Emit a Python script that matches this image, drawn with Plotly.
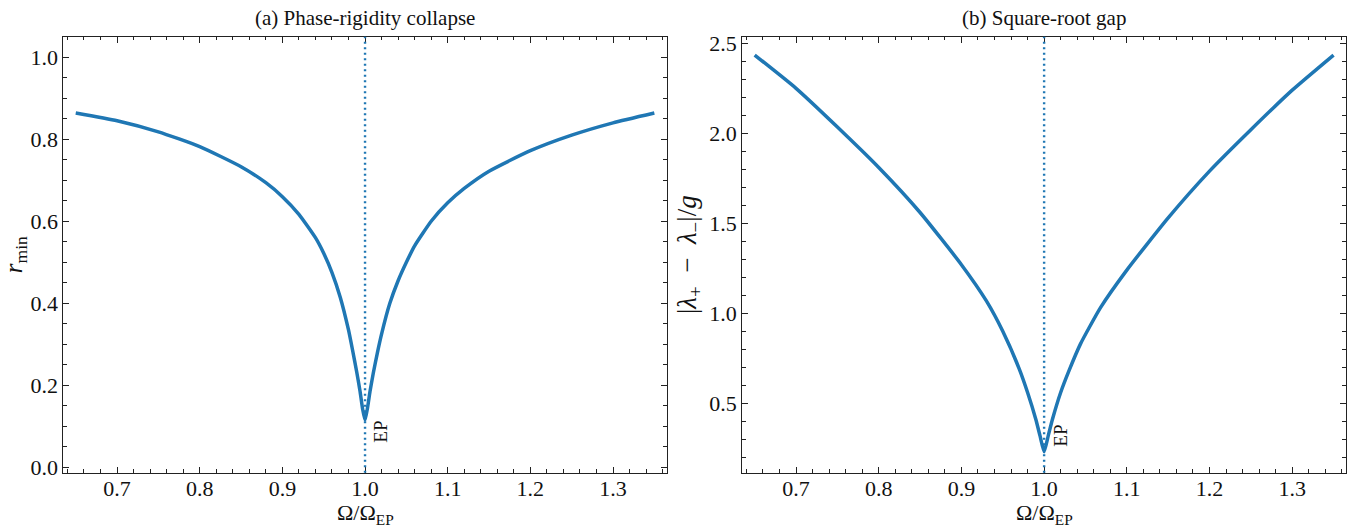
import plotly.graph_objects as go
from plotly.subplots import make_subplots

# Panel (a): minimum phase rigidity vs detuning
omega_a = [0.65, 0.70, 0.75, 0.80, 0.85, 0.88, 0.90, 0.92, 0.94, 0.95, 0.96, 0.97, 0.98,
           0.985, 0.99, 0.994, 0.997, 1.0,
           1.003, 1.006, 1.01, 1.015, 1.02, 1.03, 1.04, 1.05, 1.06, 1.08, 1.10, 1.12,
           1.15, 1.20, 1.25, 1.30, 1.35]
r_min = [0.864, 0.845, 0.818, 0.782, 0.733, 0.694, 0.660, 0.617, 0.560, 0.522, 0.475, 0.415, 0.335,
         0.285, 0.232, 0.185, 0.143, 0.115,
         0.145, 0.185, 0.230, 0.280, 0.325, 0.400, 0.455, 0.500, 0.540, 0.600, 0.645, 0.680,
         0.722, 0.772, 0.810, 0.840, 0.864]

# Panel (b): eigenvalue splitting vs detuning
omega_b = [0.65, 0.70, 0.75, 0.80, 0.85, 0.90, 0.93, 0.95, 0.97, 0.98, 0.99, 0.995, 1.0,
           1.005, 1.01, 1.02, 1.03, 1.044, 1.068, 1.10, 1.15, 1.20, 1.25, 1.30, 1.35]
gap = [2.435, 2.25, 2.035, 1.81, 1.56, 1.27, 1.07, 0.90, 0.69, 0.56, 0.41, 0.32, 0.23,
       0.32, 0.41, 0.56, 0.68, 0.83, 1.03, 1.24, 1.53, 1.79, 2.02, 2.24, 2.435]

x_ticks = [0.7, 0.8, 0.9, 1.0, 1.1, 1.2, 1.3]
omega_ep = 1.0

BLUE = "#1f77b4"
FONT = "Liberation Serif"
INK = "#111"

fig = make_subplots(rows=1, cols=2)

fig.add_trace(go.Scatter(x=omega_a, y=r_min, mode="lines",
                         line=dict(color=BLUE, width=3.5, shape="spline", smoothing=0.5),
                         showlegend=False), row=1, col=1)
fig.add_trace(go.Scatter(x=omega_b, y=gap, mode="lines",
                         line=dict(color=BLUE, width=3.5, shape="spline", smoothing=0.5),
                         showlegend=False), row=1, col=2)

axis_common = dict(
    showline=True, linecolor="#222", linewidth=1, mirror="allticks",
    ticks="inside", ticklen=6, tickwidth=1, tickcolor="#222",
    showgrid=False, zeroline=False, automargin=False,
    tickfont=dict(family=FONT, size=22, color=INK),
    tickformat=".1f",
)
minor_common = dict(ticks="inside", ticklen=3.5, tickwidth=1, tickcolor="#222", showgrid=False)

for xa in ["xaxis", "xaxis2"]:
    fig.layout[xa].update(
        **axis_common, range=[0.635, 1.365], tickvals=x_ticks,
        ticklabelstandoff=-4,
        minor=dict(**minor_common, dtick=0.02, tick0=0.6),
    )

fig.layout.xaxis.domain = [0.0467, 0.4917]
fig.layout.xaxis2.domain = [0.5474, 0.9926]

fig.layout.yaxis.update(
    **axis_common, range=[-0.013, 1.05], dtick=0.2, tick0=0,
    minor=dict(**minor_common, dtick=0.05, tick0=0),
    domain=[0.1030, 0.9304],
    title=dict(text="<i>r</i><sub>min</sub>", font=dict(family=FONT, size=25, color=INK), standoff=6),
)
fig.layout.yaxis2.update(
    **axis_common, range=[0.114, 2.537], dtick=0.5, tick0=0,
    minor=dict(**minor_common, dtick=0.1, tick0=0),
    domain=[0.1030, 0.9304],
    title=dict(text="|<i>λ</i><sub>+</sub>  −  <i>λ</i><sub>−</sub>|/<i>g</i>",
               font=dict(family=FONT, size=27, color=INK), standoff=4),
)

# Horizontal axis label under each panel
for xr in ["x", "x2"]:
    fig.add_annotation(x=0.5, y=0.025, xref=f"{xr} domain", yref="paper", yanchor="middle",
                       text="Ω/Ω<sub>EP</sub>", showarrow=False,
                       font=dict(family=FONT, size=22, color=INK))

# Exceptional point markers
for xr, yr in [("x", "y"), ("x2", "y2")]:
    fig.add_shape(type="line", xref=xr, yref=f"{yr} domain",
                  x0=omega_ep, x1=omega_ep, y0=0, y1=1,
                  line=dict(color=BLUE, width=2.4, dash="2px,3.5px"))

fig.add_annotation(x=omega_ep, y=0.086, xref="x", yref="y", text="EP", textangle=-90,
                   showarrow=False, xanchor="left", xshift=3,
                   font=dict(family=FONT, size=19, color=INK))
fig.add_annotation(x=omega_ep, y=0.318, xref="x2", yref="y2", text="EP", textangle=-90,
                   showarrow=False, xanchor="left", xshift=3,
                   font=dict(family=FONT, size=19, color=INK))

# Panel titles
fig.add_annotation(x=0.5, y=1.0, xref="x domain", yref="y domain", yanchor="bottom", yshift=5,
                   text="(a) Phase-rigidity collapse", showarrow=False,
                   font=dict(family=FONT, size=21, color=INK))
fig.add_annotation(x=0.5, y=1.0, xref="x2 domain", yref="y2 domain", yanchor="bottom", yshift=5,
                   text="(b) Square-root gap", showarrow=False,
                   font=dict(family=FONT, size=21, color=INK))

fig.update_layout(
    width=1356, height=527,
    margin=dict(l=0, r=0, t=0, b=0),
    plot_bgcolor="white", paper_bgcolor="white",
    showlegend=False,
)

fig.write_html("out.html")
